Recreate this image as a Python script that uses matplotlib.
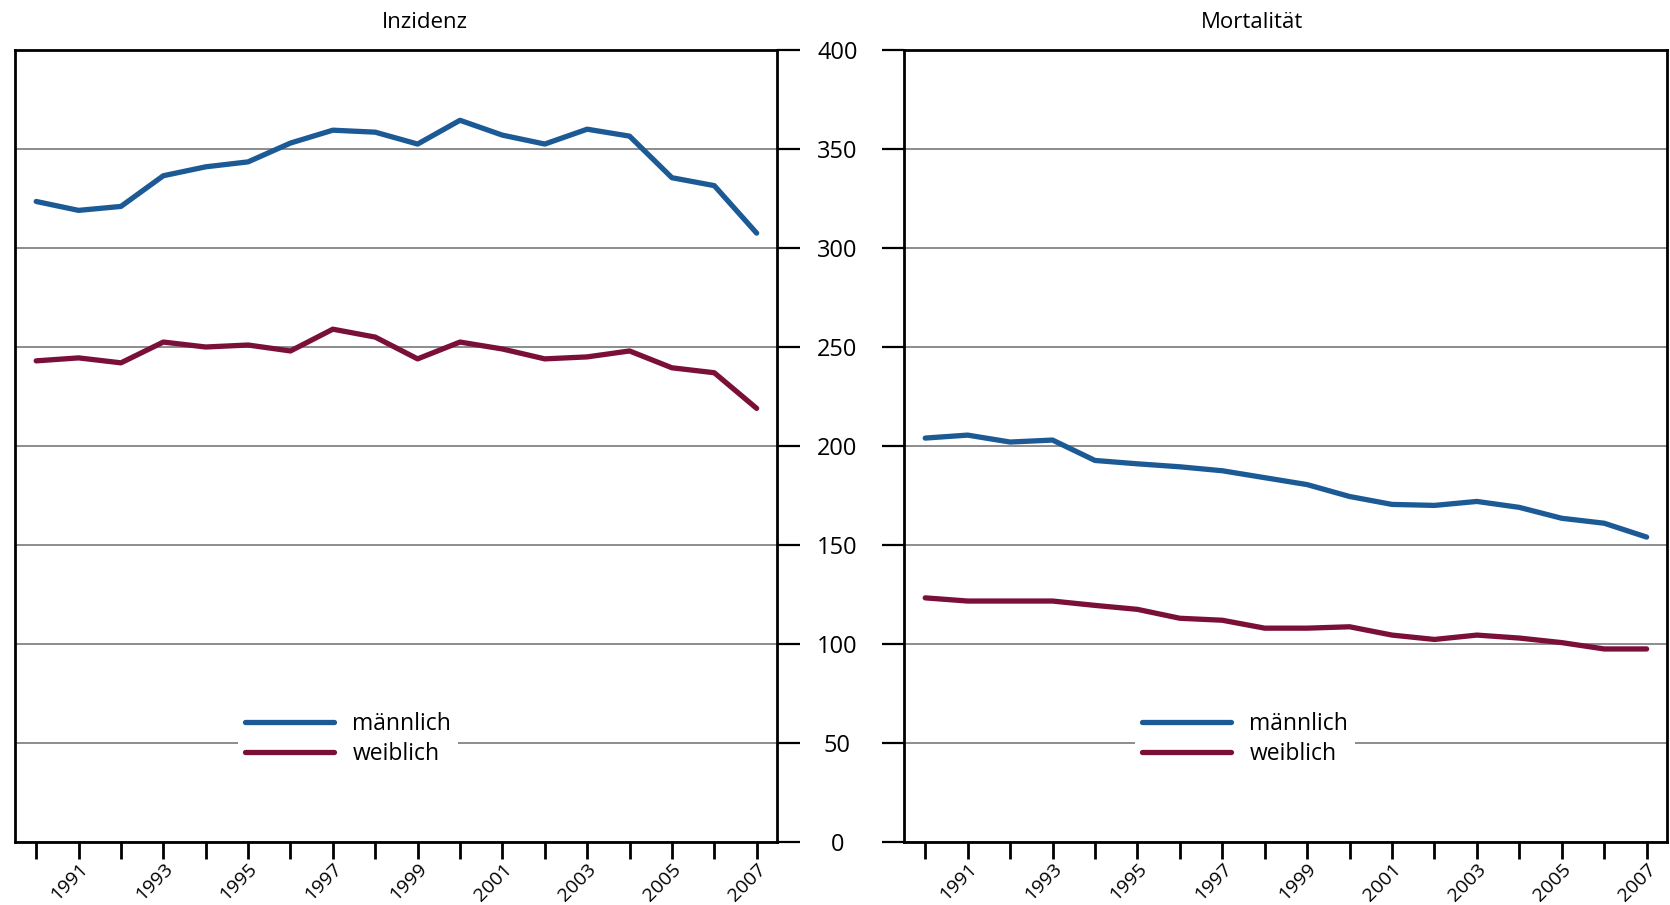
import matplotlib
matplotlib.use('Agg')
import matplotlib.pyplot as plt

plt.rcParams['font.family'] = ['Open Sans', 'DejaVu Sans']

jahre = list(range(1990, 2008))
ink_m = [323.5, 319, 321, 336.5, 341, 343.5, 353, 359.5, 358.5, 352.5, 364.5, 357, 352.5, 360, 356.5, 335.5, 331.5, 307.5]
ink_w = [243, 244.5, 242, 252.5, 250, 251, 248, 259, 255, 244, 252.5, 249, 244, 245, 248, 239.5, 237, 219]
mort_m = [204, 205.5, 202, 203, 192.7, 191, 189.5, 187.5, 184, 180.5, 174.5, 170.5, 170, 172, 169, 163.5, 161, 154]
mort_w = [123.3, 121.7, 121.7, 121.7, 119.5, 117.5, 113, 112, 108, 108, 108.7, 104.5, 102.3, 104.5, 103, 100.7, 97.5, 97.5]
titel = ['Inzidenz', 'Mortalität']
labels = ['männlich', 'weiblich']
yticks = [0, 50, 100, 150, 200, 250, 300, 350, 400]

blau = '#1c5a96'
rot = '#7a1038'

fig = plt.figure(figsize=(16.7, 9.05), dpi=100)
ax1 = fig.add_axes([15/1670, 1-842/905, 762/1670, 792/905])
ax2 = fig.add_axes([904/1670, 1-842/905, 763/1670, 792/905])

for ax, m, w, lx in [(ax1, ink_m, ink_w, 0.437), (ax2, mort_m, mort_w, 0.447)]:
    ax.plot(jahre, m, color=blau, lw=3.8, label=labels[0], solid_capstyle='round')
    ax.plot(jahre, w, color=rot, lw=3.8, label=labels[1], solid_capstyle='round')
    ax.set_xlim(1989.5, 2007.48)
    ax.set_ylim(0, 400)
    ax.set_yticks(yticks)
    ax.set_xticks(jahre)
    ax.set_xticklabels([str(j) if j % 2 == 1 else '' for j in jahre],
                       rotation=45, ha='right', rotation_mode='anchor', fontsize=14)
    ax.tick_params(axis='x', length=12, width=2, pad=1)
    ax.grid(axis='y', color='#8c8c8c', lw=1.4)
    ax.set_axisbelow(True)
    for s in ax.spines.values():
        s.set_linewidth(2.0)
    leg = ax.legend(loc='center', bbox_to_anchor=(lx, 0.13), fontsize=16.5, frameon=True,
                    facecolor='white', edgecolor='none', framealpha=1,
                    handlelength=3.9, handletextpad=0.8, labelspacing=0.3, borderpad=0.3)
    for l in leg.get_lines():
        l.set_linewidth(3.8)

ax1.yaxis.tick_right()
ax1.tick_params(axis='y', length=16.5, width=1.6, pad=27, labelsize=17)
for t in ax1.get_yticklabels():
    t.set_ha('center')
ax2.tick_params(axis='y', left=True, length=16, width=1.6, labelleft=False)

fig.text(425/1670, 1-22/905, titel[0], ha='center', va='center', fontsize=16)
fig.text(1252/1670, 1-22/905, titel[1], ha='center', va='center', fontsize=16)

fig.savefig('out.png', dpi=100)
